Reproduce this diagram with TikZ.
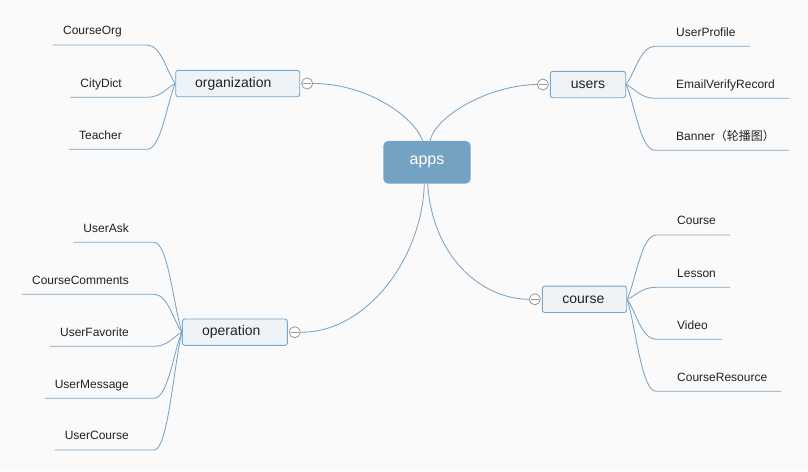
\documentclass[tikz,border=0pt]{standalone}
\usepackage{fontspec}
\setmainfont{Liberation Sans}
\newfontfamily\cjk{Noto Sans CJK SC}
\usetikzlibrary{calc}
\definecolor{bg}{HTML}{FAFAFA}
\definecolor{lineblue}{HTML}{7AA3C4}
\definecolor{appsfill}{HTML}{74A2C3}
\definecolor{boxfill}{HTML}{EEF3F7}
\definecolor{boxdraw}{HTML}{7BA4C5}
\definecolor{circgray}{HTML}{999999}
\definecolor{txt}{HTML}{222222}
\newcommand{\leafL}[5]{%
  \coordinate (#1c) at (#3,#4);
  \node[leaf,anchor=south east] (#1) at ($(#1c)+(-25,0)$) {#2};
  \draw[ln] ($(#1.south west)+(-10,0)$) -- (#1c) .. controls ($(#1c)!0.5!(#1c -| #5.west)$) and ($(#5.west)!0.3!(#1c)$) .. (#5.west);}
\newcommand{\leafR}[5]{%
  \coordinate (#1c) at (#3,#4);
  \node[leaf,anchor=south west] (#1) at ($(#1c)+(21,0)$) {#2};
  \draw[ln] (#5.east) .. controls ($(#5.east)!0.3!(#1c)$) and ($(#1c)!0.5!(#1c -| #5.east)$) .. (#1c) -- ($(#1.south east)+(14,0)$);}
\begin{document}
\begin{tikzpicture}[x=1pt,y=-1pt,
  ln/.style={draw=lineblue, line width=0.85pt},
  leaf/.style={inner sep=0pt, text depth=10pt, font=\fontsize{12}{14}\selectfont, text=txt},
  topic/.style={draw=boxdraw, fill=boxfill, rounded corners=2.5pt, line width=0.9pt, inner sep=0pt, minimum height=26.4pt, font=\fontsize{14}{16}\selectfont, text=txt},
  appsbox/.style={fill=appsfill, rounded corners=5pt, inner sep=0pt, minimum width=87.4pt, minimum height=42.7pt, font=\fontsize{16}{18}\selectfont, text=white},
  circ/.style={circle, draw=circgray, fill=white, minimum size=11pt, inner sep=0pt, line width=0.8pt,
    path picture={\draw[circgray,line width=0.8pt] ([xshift=1.3pt]path picture bounding box.west) -- ([xshift=-1.3pt]path picture bounding box.east);}}]
\fill[bg] (0,0) rectangle (808,471);
\useasboundingbox (0,0) rectangle (808,471);

\node[appsbox] (apps) at (427,162.3) {apps};
\node[topic, minimum width=124pt] (org) at (237.7,83.5) {organization\hspace*{8.8pt}};
\node[topic, minimum width=75.4pt] (users) at (588,84.5) {users};
\node[topic, minimum width=84.4pt] (course) at (584.5,299.3) {course\hspace*{2.4pt}};
\node[topic, minimum width=105pt] (oper) at (234.8,332.2) {operation\hspace*{7pt}};

\coordinate (ocp) at ($(org.east)+(7,0)$);
\coordinate (ucp) at ($(users.west)+(-7,0)$);
\coordinate (ccp) at ($(course.west)+(-7,0)$);
\coordinate (opcp) at ($(oper.east)+(7,0)$);
\node[circ] (oc) at (ocp) {};
\node[circ] (uc) at (ucp) {};
\node[circ] (cc) at (ccp) {};
\node[circ] (opc) at (opcp) {};

\draw[ln] ([xshift=-4.3pt]apps.north) .. controls (413,115) and (365,83.3) .. (oc.east);
\draw[ln] ([xshift=3pt]apps.north) .. controls (436,115) and (490,85) .. (uc.west);
\draw[ln] ([xshift=0.7pt]apps.south) .. controls (432,255) and (480,299) .. (cc.west);
\draw[ln] ([xshift=-2.7pt]apps.south) .. controls (422,260) and (365,333) .. (opc.east);

\leafL{co}{CourseOrg}{147}{45}{org}
\leafL{cd}{CityDict}{147}{97.3}{org}
\leafL{te}{Teacher}{147}{149.3}{org}

\leafR{up}{UserProfile}{655}{46.3}{users}
\leafR{ev}{EmailVerifyRecord}{655}{98.3}{users}
\leafR{bn}{Banner{\cjk （轮播图）}}{655}{150.3}{users}

\leafR{cs}{Course}{656}{235}{course}
\leafR{ls}{Lesson}{656}{287.3}{course}
\leafR{vd}{Video}{656}{339.3}{course}
\leafR{cr}{CourseResource}{656}{391.3}{course}

\leafL{ua}{UserAsk}{154}{242.3}{oper}
\leafL{cm}{CourseComments}{154}{294.3}{oper}
\leafL{uf}{UserFavorite}{154}{346.3}{oper}
\leafL{um}{UserMessage}{154}{398.3}{oper}
\leafL{uco}{UserCourse}{154}{450}{oper}
\end{tikzpicture}
\end{document}
